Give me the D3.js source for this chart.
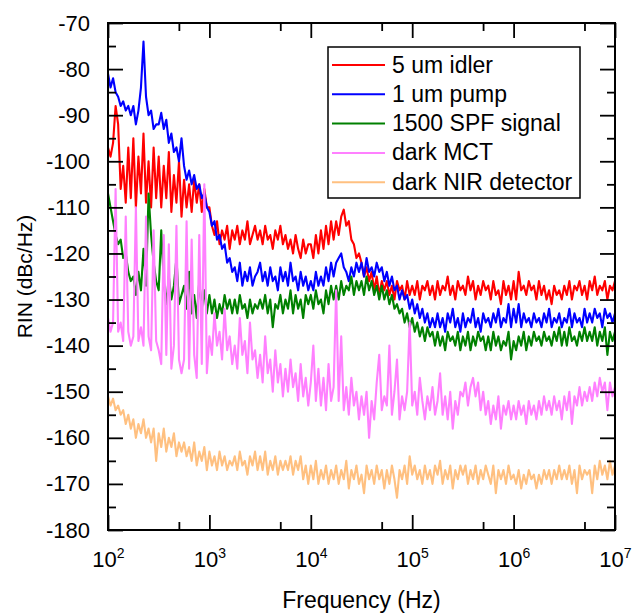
<!DOCTYPE html>
<html>
<head>
<meta charset="utf-8">
<script src="https://cdn.jsdelivr.net/npm/d3@7"></script>
<style>
    body { margin: 0; background: #fff; }
    svg text { font-family: "Liberation Sans", Arial, sans-serif; fill: #000; }
</style>
</head>
<body>
<svg id="chart" width="633" height="615"></svg>
<script>
//RIN traces, one value per sample, samples every 0.025 decade from 10^2 Hz
const idler = [
    -97,-99,-96,-88,-92,-106,-101,-109,-97,-108,
    -95,-110,-99,-107,-94,-109,-100,-110,-97,-108,
    -99,-110,-101,-108,-98,-111,-103,-109,-100,-112,
    -104,-110,-105,-111,-104,-109,-105,-111,-106,-110,
    -110,-114,-116,-113,-118,-115,-117,-114,-119,-115,
    -117,-114,-118,-115,-117,-113,-118,-116,-114,-117,
    -115,-118,-114,-117,-116,-119,-115,-117,-114,-118,
    -116,-119,-117,-120,-116,-119,-121,-117,-120,-118,
    -118,-121,-116,-120,-115,-119,-114,-118,-113,-117,
    -113,-116,-112,-110.5,-114,-113,-117,-118,-121,-120,
    -122,-125,-123,-126,-124,-128,-125,-129,-126,-128,
    -126,-129,-127,-130,-126,-128,-127,-130,-126,-129,
    -127,-129,-126,-130,-127,-128,-126,-129,-127,-130,
    -126,-129,-127,-128,-125,-129,-127,-130,-126,-128,
    -127,-129,-125,-128,-126,-130,-127,-129,-126,-128,
    -127,-130,-126,-129,-128,-131,-126,-129,-127,-130,
    -126,-130,-124,-128,-127,-129,-126,-128,-127,-130,
    -126,-129,-127,-130,-128,-131,-127,-129,-128,-130,
    -127,-129,-126,-130,-127,-128,-126,-129,-127,-130,
    -126,-128,-125,-129,-127,-128,-126,-130,-127,-128,-126
];
const pump = [
    -81,-84,-82,-85,-86,-88,-87,-89,-88,-90,
    -88,-92,-89,-84,-74,-86,-90,-89,-93,-92,
    -92,-89.5,-93,-91,-96,-94,-98,-97,-100,-95,
    -101,-104,-102,-105,-103,-106,-105,-108,-107,-110,
    -111,-114,-113,-117,-116,-119,-118,-122,-121,-124,
    -123,-126,-122,-127,-124,-126,-123,-127,-125,-124,
    -122,-126,-124,-127,-123,-126,-125,-128,-123,-126,
    -124,-127,-122,-126,-125,-128,-124,-127,-125,-128,
    -126,-128,-124,-127,-125,-127,-123,-126,-122,-125,
    -122,-121,-120,-123,-124,-126,-123,-125,-122,-124,
    -122,-125,-121,-124,-123,-125,-122,-124,-123,-126,
    -124,-127,-125,-128,-127,-130,-128,-130,-129,-132,
    -130,-133,-131,-134,-132,-135,-133,-136,-134,-136,
    -133,-136,-134,-137,-133,-135,-132,-136,-134,-137,
    -133,-136,-134,-135,-132,-136,-134,-137,-133,-135,
    -134,-136,-133,-135,-132,-136,-134,-135,-131,-136,
    -132,-135,-131,-136,-133,-135,-134,-136,-133,-135,
    -134,-136,-133,-135,-132,-136,-134,-135,-133,-136,
    -134,-135,-132,-136,-133,-135,-134,-136,-132,-135,
    -133,-135,-132,-134,-133,-136,-132,-134,-133,-135,-133
];
const signal = [
    -107,-110,-113,-116,-118,-117,-121,-120,-124,-126,
    -125,-129,-124,-128,-119,-127,-107,-116,-122,-126,
    -128,-115,-126,-131,-125,-130,-127,-121,-131,-129,
    -127,-132,-124,-133,-129,-134,-126,-132,-128,-133,
    -129,-133,-130,-134,-131,-133,-129,-132,-130,-133,
    -130,-133,-129,-132,-131,-134,-130,-133,-131,-132,
    -130,-132,-129,-133,-130,-136,-131,-132,-129,-133,
    -130,-132,-128,-133,-129,-132,-130,-134,-129,-131,
    -129,-132,-128,-131,-130,-133,-128,-131,-127,-130,
    -127,-130,-126,-129,-127,-128,-125,-129,-126,-128,
    -126,-129,-125,-128,-126,-129,-127,-130,-127,-130,
    -128,-131,-129,-132,-131,-133,-132,-135,-133,-136,
    -134,-137,-135,-138,-136,-139,-136,-138,-137,-140,
    -137,-140,-138,-141,-137,-139,-138,-140,-137,-141,
    -138,-140,-137,-141,-138,-140,-137,-139,-138,-141,
    -138,-141,-137,-140,-138,-141,-139,-140,-137,-143,
    -139,-141,-138,-140,-137,-141,-138,-140,-137,-139,
    -138,-140,-137,-139,-138,-140,-137,-139,-136,-140,
    -137,-140,-136,-139,-138,-140,-137,-139,-136,-139,
    -137,-139,-136,-140,-137,-139,-136,-142,-137,-139,-137
];
const darkMCT = [
    -134,-137,-135,-106,-137,-135,-139,-112,-137,-140,
    -138,-110,-139,-136,-140,-112,-138,-141,-115,-139,
    -141,-144,-116,-142,-118,-145,-140,-114,-143,-146,
    -143,-113,-145,-117,-142,-147,-116,-144,-105,-146,
    -138,-142,-133,-140,-137,-143,-132,-141,-138,-144,
    -140,-145,-134,-142,-139,-146,-135,-143,-141,-147,
    -142,-148,-138,-146,-143,-150,-141,-148,-144,-151,
    -145,-150,-143,-149,-146,-152,-144,-151,-147,-153,
    -148,-140,-152,-145,-153,-147,-154,-144,-152,-149,
    -128,-152,-138,-154,-149,-155,-147,-153,-150,-156,
    -151,-155,-150,-160,-152,-156,-148,-142,-154,-151,
    -153,-140,-155,-150,-143,-156,-151,-154,-150,-135,
    -153,-150,-155,-147,-152,-156,-151,-154,-149,-155,
    -152,-146,-155,-151,-156,-150,-158,-152,-155,-150,
    -151,-148,-153,-149,-147,-151,-148,-154,-150,-155,
    -152,-157,-153,-156,-151,-158,-153,-155,-152,-156,
    -153,-156,-152,-155,-153,-157,-152,-155,-153,-156,
    -152,-155,-151,-154,-152,-155,-151,-154,-152,-156,
    -151,-154,-150,-157,-151,-153,-149,-153,-150,-152,
    -149,-152,-148,-151,-147,-150,-148,-154,-148,-151,-149
];
const darkNIR = [
    -151,-153,-151.5,-154,-153,-155,-154,-157,-155,-158,
    -156,-160,-157,-159,-156,-160,-158,-161,-158,-165,
    -159,-162,-158,-163,-160,-162,-159,-164,-161,-163,
    -161,-164,-162,-165,-161,-166,-163,-165,-162,-167,
    -163,-166,-164,-167,-163,-166,-164,-167,-165,-166,
    -164,-167,-163,-166,-165,-168,-164,-166,-163,-167,
    -164,-167,-163,-168,-165,-167,-164,-168,-165,-167,
    -165,-167,-164,-168,-165,-167,-164,-169,-166,-170,
    -166,-169,-165,-170,-167,-169,-166,-170,-167,-169,
    -166,-170,-167,-169,-165,-171,-167,-169,-166,-170,
    -168,-172,-166,-169,-167,-170,-166,-169,-167,-171,
    -167,-170,-166,-169,-173,-167,-169,-166,-170,-164,
    -168,-166,-169,-167,-170,-166,-169,-167,-170,-166,
    -168,-165,-170,-167,-169,-166,-171,-167,-169,-166,
    -168,-166,-170,-167,-169,-166,-170,-167,-169,-166,
    -168,-170,-166,-172,-167,-169,-167,-170,-166,-169,
    -168,-170,-167,-171,-168,-170,-167,-169,-168,-171,
    -168,-170,-167,-169,-167,-170,-167,-169,-166,-169,
    -167,-169,-166,-170,-167,-172,-166,-169,-167,-168,
    -167,-172,-166,-169,-165,-168,-166,-169,-165,-168,-166
];

const seriesNames = ["5 um idler", "1 um pump", "1500 SPF signal", "dark MCT", "dark NIR detector"];
const seriesColors = ["#ff0000", "#0000ff", "#008000", "#ff80ff", "#ffc080"];
const seriesValues = [idler, pump, signal, darkMCT, darkNIR];

const decades = [1e2, 1e3, 1e4, 1e5, 1e6, 1e7];
const minorX = [5e2, 5e3, 5e4, 5e5, 5e6];
const yMajor = d3.range(-180, -69, 10);
const yMinor = d3.range(-175, -70, 10);

//sample frequencies, log spaced
const logStart = 2, logStep = 0.025;
const freqs = d3.range(idler.length).map(i => Math.pow(10, logStart + i * logStep));

const svg = d3.select("#chart");
svg.append("rect").attr("width", 633).attr("height", 615).attr("fill", "#fff");

const margin = { top: 23, right: 18, bottom: 85, left: 108 };
const width = 633 - margin.left - margin.right;
const height = 615 - margin.top - margin.bottom;

const g = svg.append("g")
    .attr("transform", `translate(${margin.left},${margin.top})`);

const x = d3.scaleLog().domain([1e2, 1e7]).range([0, width]);
const y = d3.scaleLinear().domain([-180, -70]).range([height, 0]);

g.append("clipPath").attr("id", "plotclip")
    .append("rect").attr("width", width).attr("height", height);

//traces
const line = d3.line()
    .x((d, i) => x(freqs[i]))
    .y(d => y(d));

const traces = g.append("g").attr("clip-path", "url(#plotclip)");
seriesValues.forEach((vals, k) => {
    traces.append("path")
        .datum(vals)
        .attr("fill", "none")
        .attr("stroke", seriesColors[k])
        .attr("stroke-width", 2.1)
        .attr("stroke-linejoin", "round")
        .attr("d", line);
});

//axes, ticks pointing inward
function styleAxis(sel) {
    sel.attr("font-size", null).attr("font-family", null);
    sel.select(".domain").remove();
    sel.selectAll(".tick line").attr("stroke", "#000").attr("stroke-width", 1.8);
}

g.append("g")
    .attr("transform", `translate(0,${height})`)
    .call(d3.axisBottom(x).tickValues(decades).tickSizeInner(-15).tickSizeOuter(0).tickFormat(() => ""))
    .call(styleAxis)
    .selectAll(".tick text")
    .each(function(d) {
        const t = d3.select(this);
        t.attr("y", 37).attr("dy", null).style("font-size", "22px");
        t.append("tspan").text("10");
        t.append("tspan").style("font-size", "14px").attr("dy", -9).text(Math.round(Math.log10(d)));
    });

g.append("g")
    .attr("transform", `translate(0,${height})`)
    .call(d3.axisBottom(x).tickValues(minorX).tickSizeInner(-8).tickSizeOuter(0).tickFormat(() => ""))
    .call(styleAxis);

g.append("g")
    .call(d3.axisTop(x).tickValues(decades).tickSizeInner(-15).tickSizeOuter(0).tickFormat(() => ""))
    .call(styleAxis);

g.append("g")
    .call(d3.axisTop(x).tickValues(minorX).tickSizeInner(-8).tickSizeOuter(0).tickFormat(() => ""))
    .call(styleAxis);

g.append("g")
    .call(d3.axisLeft(y).tickValues(yMajor).tickSizeInner(-15).tickSizeOuter(0).tickPadding(18).tickFormat(d => String(d)))
    .call(styleAxis)
    .selectAll(".tick text").style("font-size", "22px");

g.append("g")
    .call(d3.axisLeft(y).tickValues(yMinor).tickSizeInner(-8).tickSizeOuter(0).tickFormat(() => ""))
    .call(styleAxis);

g.append("g")
    .attr("transform", `translate(${width},0)`)
    .call(d3.axisRight(y).tickValues(yMajor).tickSizeInner(-15).tickSizeOuter(0).tickFormat(() => ""))
    .call(styleAxis);

g.append("g")
    .attr("transform", `translate(${width},0)`)
    .call(d3.axisRight(y).tickValues(yMinor).tickSizeInner(-8).tickSizeOuter(0).tickFormat(() => ""))
    .call(styleAxis);

//frame
g.append("rect")
    .attr("width", width)
    .attr("height", height)
    .attr("fill", "none")
    .attr("stroke", "#000")
    .attr("stroke-width", 2);

//axis titles
g.append("text")
    .attr("x", width / 2)
    .attr("y", height + 78)
    .attr("text-anchor", "middle")
    .style("font-size", "23px")
    .text("Frequency (Hz)");

g.append("text")
    .attr("transform", "rotate(-90)")
    .attr("x", -height / 2)
    .attr("y", -76)
    .attr("text-anchor", "middle")
    .style("font-size", "21px")
    .text("RIN (dBc/Hz)");

//legend
const legend = svg.append("g")
    .attr("transform", "translate(328,47)");

legend.append("rect")
    .attr("width", 252)
    .attr("height", 151)
    .attr("fill", "#fff")
    .attr("stroke", "#000")
    .attr("stroke-width", 1.5);

const rowH = 29.3;
seriesNames.forEach((name, k) => {
    const ry = 18 + k * rowH;
    legend.append("line")
        .attr("x1", 4).attr("x2", 57)
        .attr("y1", ry).attr("y2", ry)
        .attr("stroke", seriesColors[k])
        .attr("stroke-width", 2);
    legend.append("text")
        .attr("x", 64)
        .attr("y", ry + 7.5)
        .style("font-size", "23px")
        .text(name);
});
</script>
</body>
</html>
